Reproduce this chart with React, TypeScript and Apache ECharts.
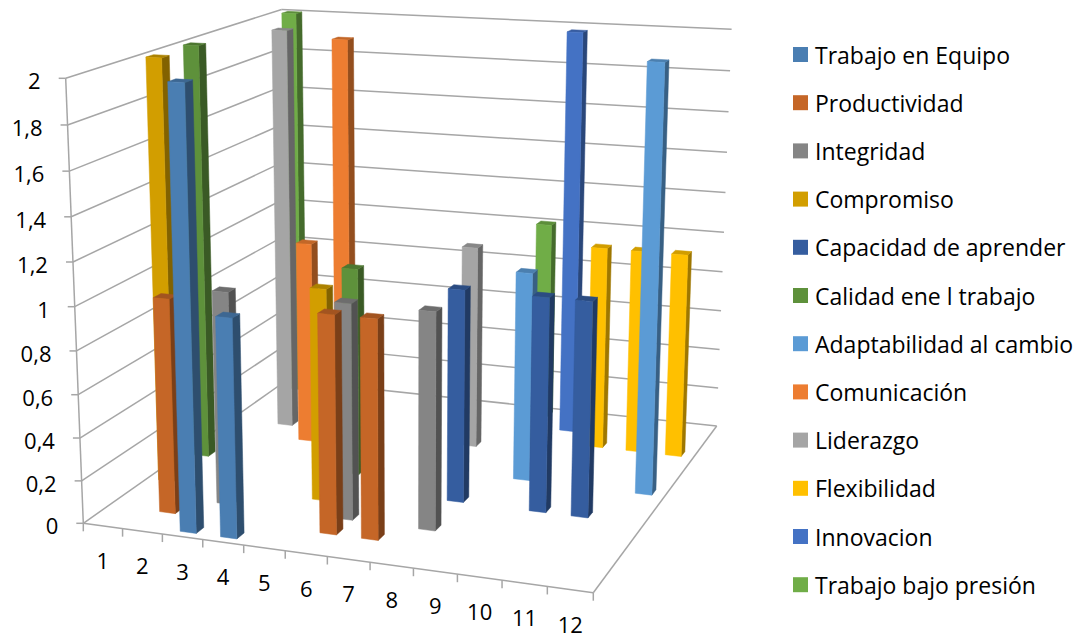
import React, { useEffect, useRef } from "react";
import * as echarts from "echarts";

// Categories and value axis
const categories = ["1", "2", "3", "4", "5", "6", "7", "8", "9", "10", "11", "12"];
const valueTicks = [0, 0.2, 0.4, 0.6, 0.8, 1, 1.2, 1.4, 1.6, 1.8, 2];
const valueTickLabels = ["0", "0,2", "0,4", "0,6", "0,8", "1", "1,2", "1,4", "1,6", "1,8", "2"];

// One list per competency, one slot per category
const trabajoEnEquipo = [null, null, 2, 1, null, null, null, null, null, null, null, null];
const productividad = [null, 1, null, null, null, 1, 1, null, null, null, null, null];
const integridad = [null, null, 1, null, null, 1, null, 1, null, null, null, null];
const compromiso = [2, null, null, null, 1, null, null, null, null, null, null, null];
const capacidadDeAprender = [null, null, null, null, null, null, null, 1, null, 1, 1, null];
const calidadEnElTrabajo = [2, null, null, null, 1, null, null, null, null, null, null, null];
const adaptabilidad = [null, null, null, null, null, null, null, null, 1, null, null, 2];
const comunicacion = [null, null, 1, 2, null, null, null, null, null, null, null, null];
const liderazgo = [null, 2, null, null, null, null, 1, null, null, null, null, null];
const flexibilidad = [null, null, null, null, null, null, null, null, null, 1, 1, 1];
const innovacion = [null, null, null, null, null, null, null, null, 2, null, null, null];
const trabajoBajoPresion = [2, null, null, null, null, null, null, 1, null, null, null, null];

// Front row first
const rows = [
  { name: "Trabajo en Equipo", values: trabajoEnEquipo, color: "#4a7eb2" },
  { name: "Productividad", values: productividad, color: "#c56627" },
  { name: "Integridad", values: integridad, color: "#858585" },
  { name: "Compromiso", values: compromiso, color: "#d29e00" },
  { name: "Capacidad de aprender", values: capacidadDeAprender, color: "#355d9f" },
  { name: "Calidad ene l trabajo", values: calidadEnElTrabajo, color: "#5e913b" },
  { name: "Adaptabilidad al cambio", values: adaptabilidad, color: "#5b9bd5" },
  { name: "Comunicación", values: comunicacion, color: "#ed7d31" },
  { name: "Liderazgo", values: liderazgo, color: "#a5a5a5" },
  { name: "Flexibilidad", values: flexibilidad, color: "#ffc000" },
  { name: "Innovacion", values: innovacion, color: "#4472c4" },
  { name: "Trabajo bajo presión", values: trabajoBajoPresion, color: "#70ad47" },
];

const FONT = "'Open Sans'";
const AXIS_COLOR = "#a6a6a6";
const VALUE_MAX = 2;
const BAR_FRACTION = 0.4; // 150% gap on both horizontal directions

// Perspective of the box: floor corners in pixels plus how height shifts the homography
const floorQuad = { x0: 83.3, y0: 523.3, x1: 593.3, y1: 592.7, x2: 716.7, y2: 426, x3: 287, y3: 380 };
const heightVec = { x: -21.0, y: -449.05, w: -0.0517 };

function makeProjection() {
  const { x0, y0, x1, y1, x2, y2, x3, y3 } = floorQuad;
  const dx1 = x1 - x2, dx2 = x3 - x2, sx = x0 - x1 + x2 - x3;
  const dy1 = y1 - y2, dy2 = y3 - y2, sy = y0 - y1 + y2 - y3;
  const den = dx1 * dy2 - dx2 * dy1;
  const g = (sx * dy2 - dx2 * sy) / den;
  const h = (dx1 * sy - sx * dy1) / den;
  const a = x1 - x0 + g * x1, b = x3 - x0 + h * x3;
  const d = y1 - y0 + g * y1, e = y3 - y0 + h * y3;
  // u runs along the categories, w from front to back, v from floor to top, all 0..1
  return (u: number, w: number, v: number): [number, number] => {
    const q = g * u + h * w + 1 + heightVec.w * v;
    return [
      (a * u + b * w + x0 + heightVec.x * v) / q,
      (d * u + e * w + y0 + heightVec.y * v) / q,
    ];
  };
}
const project = makeProjection();

function shade(hex: string, k: number) {
  const n = parseInt(hex.slice(1), 16);
  const c = (s: number) => Math.round(((n >> s) & 255) * k);
  return `rgb(${c(16)},${c(8)},${c(0)})`;
}

// Reads category and height through the hidden cartesian axes, as fractions of the grid
function toUnit(api: any, params: any, cat: number, value: number) {
  const sys = params.coordSys;
  const pt = api.coord([cat, value]);
  return {
    u: (pt[0] - sys.x) / sys.width,
    v: (sys.y + sys.height - pt[1]) / sys.height,
  };
}

function line(a: [number, number], b: [number, number]) {
  return {
    type: "line",
    shape: { x1: a[0], y1: a[1], x2: b[0], y2: b[1] },
    style: { stroke: AXIS_COLOR, lineWidth: 1.5, fill: "none" },
  };
}

function label(text: string, x: number, y: number, align: string) {
  return {
    type: "text",
    style: { text, x, y, align, verticalAlign: "middle", fill: "#000000", font: `22px ${FONT}` },
  };
}

// Walls, gridlines and the value axis, one data item per tick
function renderValueTick(params: any, api: any) {
  const index = api.value(0);
  const { v } = toUnit(api, params, 0, valueTicks[index]);
  const front = project(0, 0, v);
  const corner = project(0, 1, v);
  const end = project(1, 1, v);
  const children: any[] = [
    line(front, corner),
    line(corner, end),
    line([front[0] - 7, front[1]], front),
    label(valueTickLabels[index], front[0] - 25, front[1] + 2, "right"),
  ];
  if (index === 0) {
    children.push(line(project(0, 0, 0), project(0, 0, 1)));
    children.push(line(project(0, 0, 0), project(1, 0, 0)));
    children.push(line(project(1, 0, 0), project(1, 1, 0)));
    children.push(line(project(1, 0, 0), [project(1, 0, 0)[0], project(1, 0, 0)[1] + 8]));
  }
  return { type: "group", children };
}

// Category ticks and labels along the front edge of the floor
function renderCategoryTick(params: any, api: any) {
  const cat = api.value(0);
  const left = cat / categories.length;
  const { u } = toUnit(api, params, cat, 0);
  const a = project(left, 0, 0);
  const mid = project(u, 0, 0);
  return {
    type: "group",
    children: [
      line(a, [a[0], a[1] + 8]),
      label(categories[cat], mid[0], mid[1] + 34, "center"),
    ],
  };
}

function makeBarRenderer(rowIndex: number, color: string) {
  const halfCell = 0.5 / categories.length;
  const halfDepth = 0.5 / rows.length;
  return (params: any, api: any) => {
    const { u } = toUnit(api, params, api.value(0), 0);
    const { v } = toUnit(api, params, api.value(0), api.value(1));
    const uL = u - halfCell * BAR_FRACTION;
    const uR = u + halfCell * BAR_FRACTION;
    const wC = (rowIndex + 0.5) / rows.length;
    const wF = wC - halfDepth * BAR_FRACTION;
    const wB = wC + halfDepth * BAR_FRACTION;
    const face = (pts: [number, number][], fill: string) => ({
      type: "polygon",
      shape: { points: pts },
      style: { fill, stroke: fill, lineWidth: 0.5 },
    });
    return {
      type: "group",
      children: [
        face([project(uR, wF, 0), project(uR, wB, 0), project(uR, wB, v), project(uR, wF, v)], shade(color, 0.62)),
        face([project(uL, wF, v), project(uR, wF, v), project(uR, wB, v), project(uL, wB, v)], shade(color, 0.82)),
        face([project(uL, wF, 0), project(uR, wF, 0), project(uR, wF, v), project(uL, wF, v)], color),
      ],
    };
  };
}

export default function App() {
  const ref = useRef<HTMLDivElement>(null);

  useEffect(() => {
    const chart = echarts.init(ref.current!, undefined, { renderer: "svg" });

    // Painted from the back row to the front row so nearer bars cover farther ones
    const barSeries = rows
      .map((row, rowIndex) => ({
        type: "custom",
        name: row.name,
        coordinateSystem: "cartesian2d",
        itemStyle: { color: row.color },
        encode: { x: 0, y: 1 },
        renderItem: makeBarRenderer(rowIndex, row.color),
        data: row.values
          .map((value, cat) => (value === null ? null : [cat, value]))
          .filter((d) => d !== null),
      }))
      .reverse();

    chart.setOption({
      animation: false,
      backgroundColor: "#ffffff",
      grid: { left: 0, right: 0, top: 0, bottom: 0 },
      xAxis: { type: "category", data: categories, show: false },
      yAxis: { type: "value", min: 0, max: VALUE_MAX, interval: 0.2, show: false },
      legend: {
        orient: "vertical",
        left: 793,
        top: 43,
        padding: 0,
        itemWidth: 15,
        itemHeight: 15,
        itemGap: 25.2,
        selectedMode: false,
        icon: "rect",
        data: rows.map((r) => r.name),
        textStyle: {
          fontFamily: FONT,
          fontSize: 23,
          color: "#000000",
          lineHeight: 22,
          padding: [0, 0, 0, 2],
        },
      },
      series: [
        {
          type: "custom",
          coordinateSystem: "cartesian2d",
          silent: true,
          encode: { x: 0, y: 1 },
          renderItem: renderValueTick,
          data: valueTicks.map((_, i) => [i, 0]),
        },
        {
          type: "custom",
          coordinateSystem: "cartesian2d",
          silent: true,
          encode: { x: 0, y: 1 },
          renderItem: renderCategoryTick,
          data: categories.map((_, i) => [i, 0]),
        },
        ...barSeries,
      ],
    });
    return () => chart.dispose();
  }, []);

  return (
    <div
      ref={ref}
      style={{ position: "absolute", left: 0, top: 0, width: 1083, height: 638 }}
    />
  );
}
